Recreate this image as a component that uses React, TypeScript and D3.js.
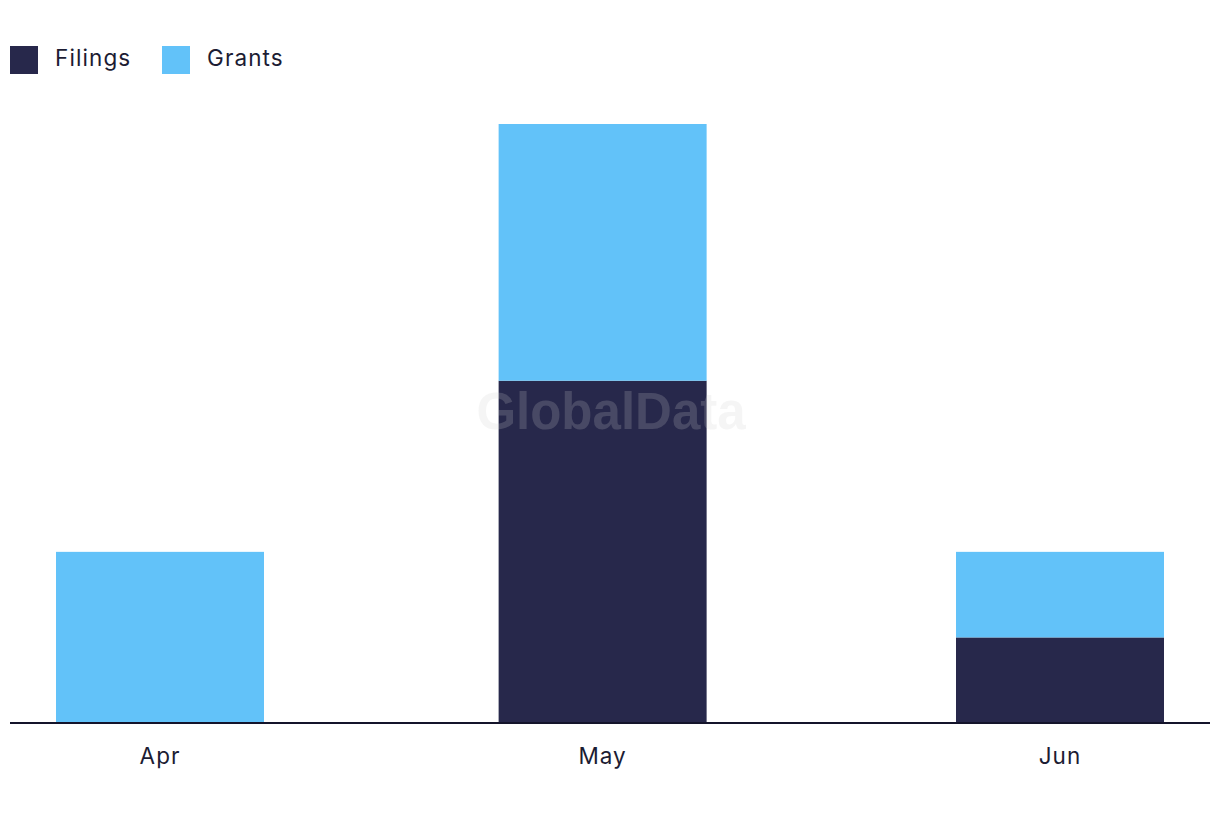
import React from "react";
import * as d3 from "d3";

const months = ["Apr", "May", "Jun"];
const monthDates = [new Date(2023, 3, 1), new Date(2023, 4, 1), new Date(2023, 5, 1)];
const filings = [0, 4, 1];
const grants = [2, 3, 1];
const seriesNames = ["Filings", "Grants"];
const seriesColors = ["#27284b", "#62c2f9"];

const W = 1220;
const H = 822;

export default function App() {
  const x = d3.scaleTime().domain([monthDates[0], monthDates[2]]).range([160, 1060]);
  const y = d3.scaleLinear().domain([0, 7]).range([723, 124]);
  const barW = 208;
  const rows = months.map((m, i) => ({ m, date: monthDates[i], Filings: filings[i], Grants: grants[i] }));
  const stack = d3.stack<any>().keys(seriesNames)(rows);
  const font = "Inter, 'Open Sans', sans-serif";
  const textColor = "#1c1c33";

  return (
    <svg width={W} height={H} style={{ position: "absolute", left: 0, top: 0, display: "block" }}>
      <rect width={W} height={H} fill="#fff" />
      {stack.map((s, si) => (
        <g key={s.key} fill={seriesColors[si]}>
          {s.map((d, i) =>
            d[1] - d[0] > 0 ? (
              <rect
                key={i}
                x={x(rows[i].date) - barW / 2}
                y={y(d[1])}
                width={barW}
                height={y(d[0]) - y(d[1])}
              />
            ) : null
          )}
        </g>
      ))}
      <line x1={10} x2={1210} y1={723} y2={723} stroke="#14142b" strokeWidth={2} />
      {rows.map((r, i) => (
        <text key={i} x={x(r.date)} y={764} textAnchor="middle" fontFamily={font} fontSize={22.5} letterSpacing={1} fill={textColor}>
          {r.m}
        </text>
      ))}
      <text
        x={611}
        y={429}
        textAnchor="middle"
        fontFamily="'Liberation Sans', Arial, sans-serif"
        fontWeight="bold"
        fontSize={51}
        fill="#cfcfcf"
        fillOpacity={0.2}
      >
        GlobalData
      </text>
      {seriesNames.map((n, i) => {
        const lx = [10, 162][i];
        return (
          <g key={n}>
            <rect x={lx} y={46} width={28} height={28} fill={seriesColors[i]} />
            <text x={lx + 45} y={66} fontFamily={font} fontSize={22.5} letterSpacing={1.1} fill={textColor}>
              {n}
            </text>
          </g>
        );
      })}
    </svg>
  );
}
